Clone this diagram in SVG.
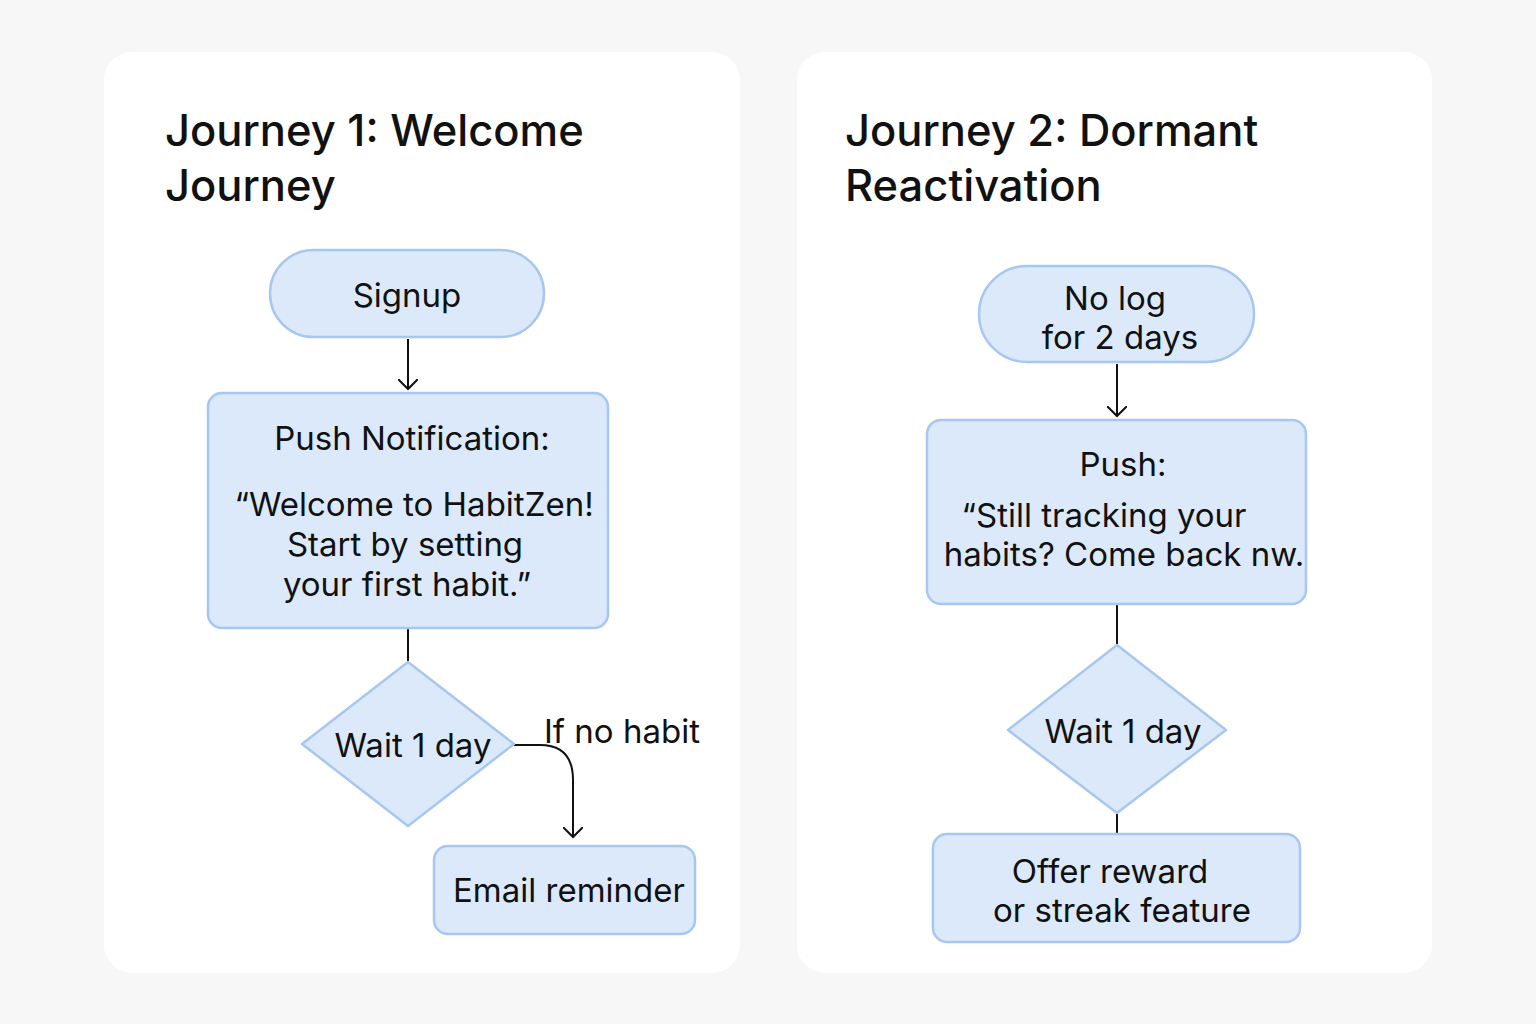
<svg xmlns="http://www.w3.org/2000/svg" width="1536" height="1024" viewBox="0 0 1536 1024">
<style>
.panel{fill:#ffffff}
.node{fill:#dbe9fb;stroke:#a8c7f0;stroke-width:2.5}
.t{font-family:Inter,"Noto Sans","Liberation Sans",sans-serif;fill:#111111;text-anchor:middle;font-size:33px}
.title{font-family:Inter,"Noto Sans","Liberation Sans",sans-serif;fill:#111111;font-size:43.5px;font-weight:500}
.lbl{font-family:Inter,"Noto Sans","Liberation Sans",sans-serif;fill:#111111;font-size:33px}
.edge{fill:none;stroke:#111111;stroke-width:2}
</style>
<defs>
<marker id="arr" markerWidth="20" markerHeight="20" refX="10" refY="10" orient="auto" markerUnits="userSpaceOnUse">
<path d="M0,0 L10,10 L0,20" fill="none" stroke="#111111" stroke-width="2"/>
</marker>
</defs>
<rect width="1536" height="1024" fill="#f7f7f7"/>
<rect class="panel" x="104" y="52" width="636" height="921" rx="28"/>
<rect class="panel" x="797" y="52" width="635" height="921" rx="28"/>
<text class="title" x="165" y="146">Journey 1: Welcome</text>
<text class="title" x="165" y="201">Journey</text>
<text class="title" x="845" y="146">Journey 2: Dormant</text>
<text class="title" x="845" y="201">Reactivation</text>

<g id="connectors">
<path class="edge" d="M408,339 V389" marker-end="url(#arr)"/>
<path class="edge" d="M408,628 V662"/>
<path class="edge" d="M514,745 H540 Q573,745 573,780 V837" marker-end="url(#arr)"/>
<path class="edge" d="M1117,364 V416" marker-end="url(#arr)"/>
<path class="edge" d="M1117,604 V645"/>
<path class="edge" d="M1117,813 V834"/>
<text class="lbl" x="544" y="743">If no habit</text>
</g>

<g id="signup">
<rect class="node" x="270" y="250" width="274" height="87" rx="43.5"/>
<text class="t" x="407" y="307">Signup</text>
</g>
<g id="push1">
<rect class="node" x="208" y="393" width="400" height="235" rx="14"/>
<text class="t" x="412" y="450">Push Notification:</text>
<text class="t" x="414" y="516">“Welcome to HabitZen!</text>
<text class="t" x="405" y="556">Start by setting</text>
<text class="t" x="407" y="596">your first habit.”</text>
</g>
<g id="wait1">
<path class="node" d="M408,662 L514,744 L408,826 L302,744 Z" stroke-linejoin="round"/>
<text class="t" x="413" y="757">Wait 1 day</text>
</g>
<g id="email">
<rect class="node" x="434" y="846" width="261" height="88" rx="14"/>
<text class="t" x="569" y="902">Email reminder</text>
</g>

<g id="nolog">
<rect class="node" x="979" y="266" width="275" height="96" rx="48"/>
<text class="t" x="1115" y="310">No log</text>
<text class="t" x="1120" y="349">for 2 days</text>
</g>
<g id="push2">
<rect class="node" x="927" y="420" width="379" height="184" rx="14"/>
<text class="t" x="1123" y="476">Push:</text>
<text class="t" x="1104" y="527">“Still tracking your</text>
<text class="t" x="1124" y="566">habits? Come back nw.</text>
</g>
<g id="wait2">
<path class="node" d="M1117,645 L1226,730 L1117,813 L1008,730 Z" stroke-linejoin="round"/>
<text class="t" x="1123" y="743">Wait 1 day</text>
</g>
<g id="offer">
<rect class="node" x="933" y="834" width="367" height="108" rx="14"/>
<text class="t" x="1110" y="883">Offer reward</text>
<text class="t" x="1122" y="922">or streak feature</text>
</g>
</svg>
